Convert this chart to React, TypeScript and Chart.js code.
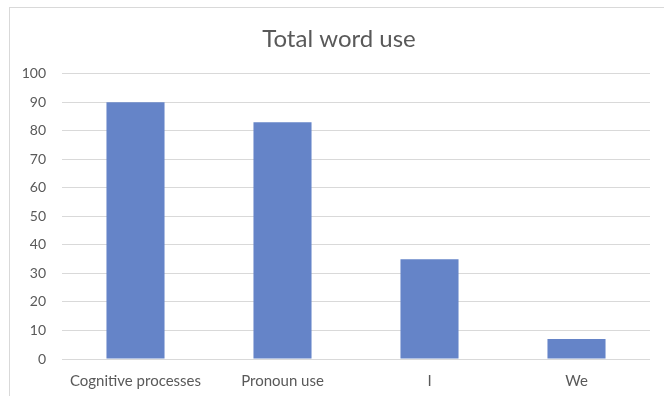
import React, { useEffect, useRef } from "react";
import { Chart, registerables } from "chart.js";

Chart.register(...registerables);

const categories = ["Cognitive processes", "Pronoun use", "I", "We"];
const values = [90, 83, 35, 7];
const titleText = "Total word use";

const FONT = "Lato, 'Noto Sans', sans-serif";

const titleShift = {
  id: "titleShift",
  afterLayout(chart: any) {
    const t = chart.titleBlock;
    if (t) t.left = 28;
  },
};

export default function App() {
  const ref = useRef<HTMLCanvasElement | null>(null);

  useEffect(() => {
    if (!ref.current) return;
    const chart = new Chart(ref.current, {
      type: "bar",
      data: {
        labels: categories,
        datasets: [
          {
            data: values,
            backgroundColor: "#6584c8",
            borderWidth: 0,
            categoryPercentage: 1,
            barPercentage: 0.395,
          },
        ],
      },
      plugins: [titleShift],
      options: {
        animation: false,
        responsive: false,
        maintainAspectRatio: false,
        layout: { padding: { left: 0, right: 14, top: 0, bottom: 7 } },
        plugins: {
          legend: { display: false },
          tooltip: { enabled: false },
          title: {
            display: true,
            text: titleText,
            color: "#595959",
            font: { family: FONT, size: 24, weight: "normal" },
            padding: { top: 25, bottom: 20 },
          },
        },
        scales: {
          x: {
            afterFit: (s: any) => {
              s.height = 30;
            },
            grid: { display: false, drawTicks: false },
            border: { display: false },
            ticks: {
              color: "#595959",
              font: { family: FONT, size: 15 },
              padding: 13,
              maxRotation: 0,
            },
          },
          y: {
            min: 0,
            max: 100,
            afterFit: (s: any) => {
              s.width = 62;
            },
            grid: { color: "#d9d9d9", lineWidth: 1, drawTicks: false },
            border: { display: false },
            ticks: {
              stepSize: 10,
              color: "#595959",
              font: { family: FONT, size: 14 },
              padding: 16,
            },
          },
        },
      },
    });
    return () => chart.destroy();
  }, []);

  return (
    <div style={{ position: "fixed", left: 0, top: 0, width: 664, height: 396, background: "#fff" }}>
      <div
        style={{
          position: "absolute",
          left: 9,
          top: 7,
          right: -2,
          bottom: -2,
          borderTop: "1px solid #d9d9d9",
          borderLeft: "1px solid #d9d9d9",
        }}
      />
      <canvas ref={ref} width={664} height={396} style={{ position: "absolute", left: 0, top: 0 }} />
    </div>
  );
}
